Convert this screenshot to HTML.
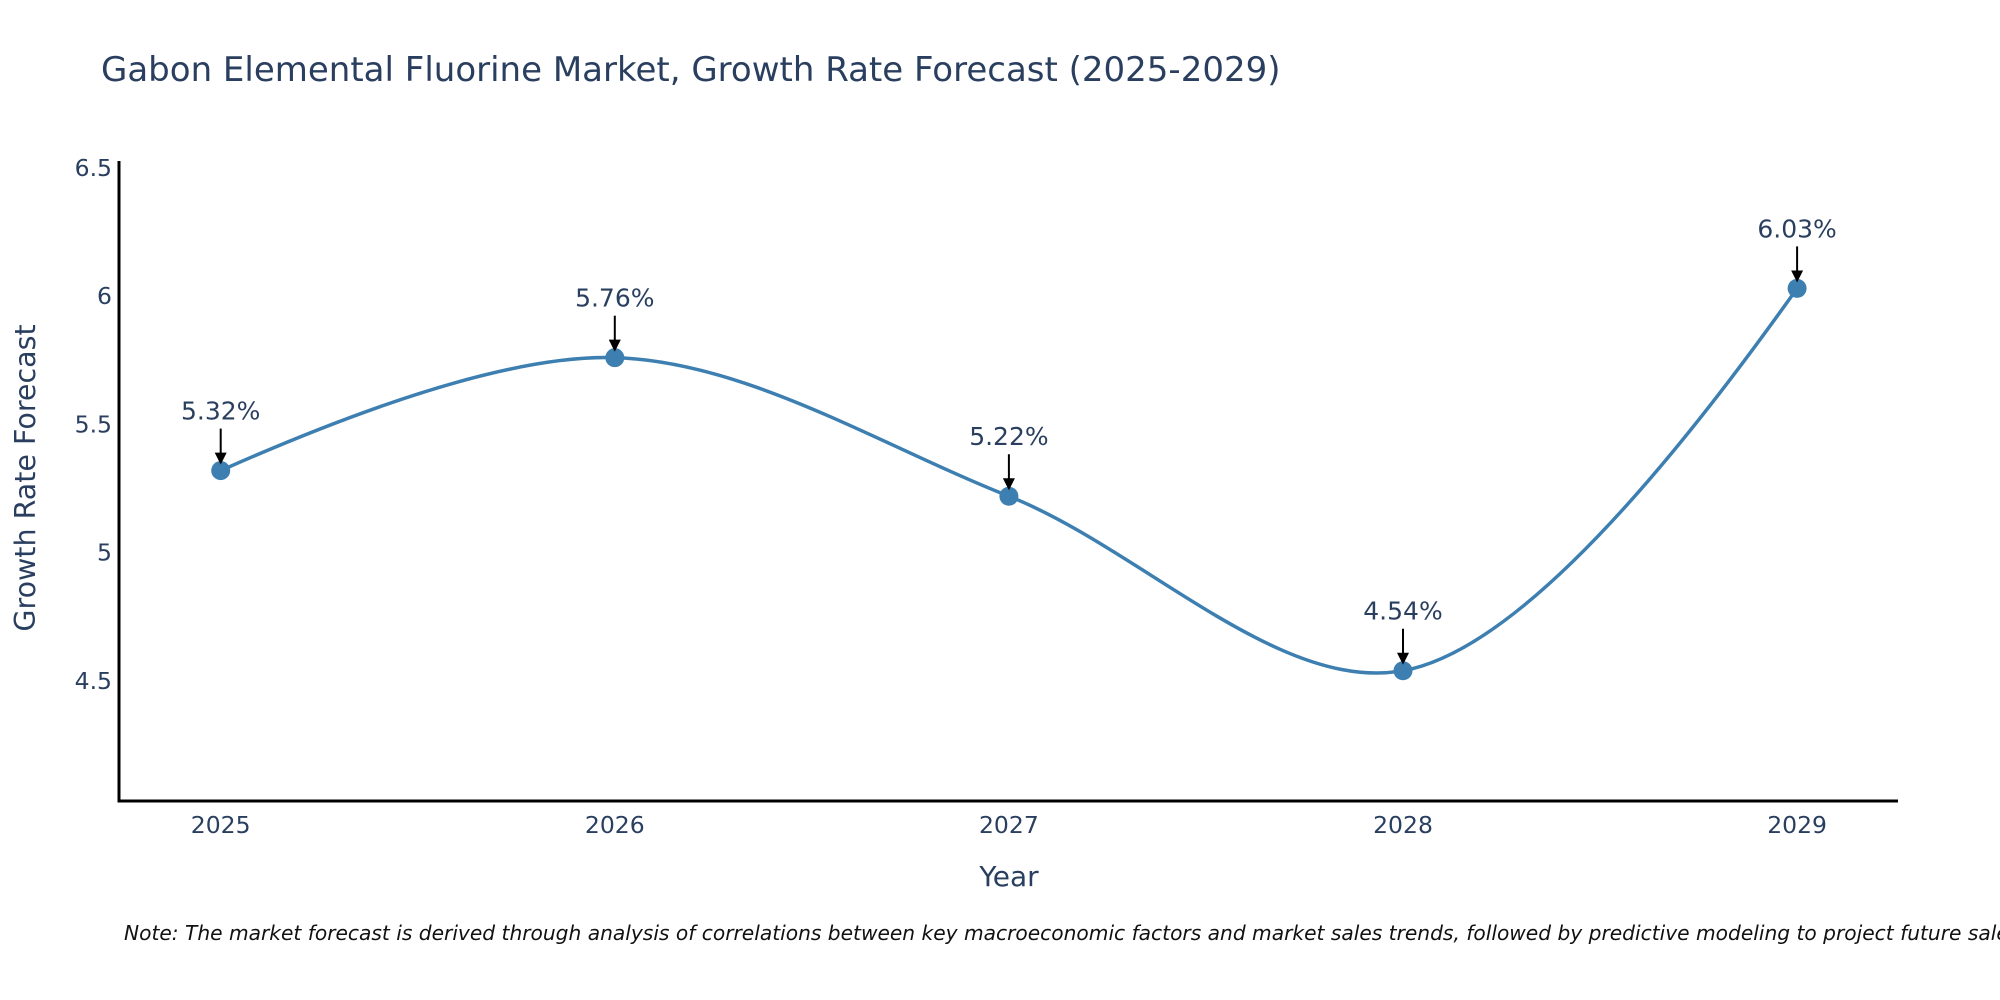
<!DOCTYPE html>
<html><head><meta charset="utf-8"><style>
html,body{margin:0;padding:0;background:#fff;}
svg{display:block;font-family:"DejaVu Sans","Liberation Sans",sans-serif;}
</style></head><body>
<svg id="chart" width="2000" height="1000" viewBox="0 0 2000 1000">
<defs><marker id="ah" markerWidth="6" markerHeight="6" refX="5" refY="3" orient="auto" markerUnits="strokeWidth"><path d="M0,0 L6,3 L0,6 Z" fill="#000"/></marker></defs>
<text x="101" y="81" font-size="34" fill="#2a3f5f">Gabon Elemental Fluorine Market, Growth Rate Forecast (2025-2029)</text>
<g id="yticks"></g>
<g id="xticks"></g>
<line x1="119" y1="161" x2="119" y2="802" stroke="#000" stroke-width="3"/>
<line x1="117.5" y1="801" x2="1898" y2="801" stroke="#000" stroke-width="3"/>
<path id="line" fill="none" stroke="#3d7fb1" stroke-width="3.5"/>
<g id="marks"></g>
<g id="annots"></g>
<text x="1009" y="886" font-size="28" fill="#2a3f5f" text-anchor="middle">Year</text>
<text transform="translate(35,478) rotate(-90)" font-size="28.5" fill="#2a3f5f" text-anchor="middle">Growth Rate Forecast</text>
<text x="124" y="940" font-size="20.2" font-style="italic" fill="#111">Note: The market forecast is derived through analysis of correlations between key macroeconomic factors and market sales trends, followed by predictive modeling to project future sales.</text>
</svg>
<script>
const years = [2025, 2026, 2027, 2028, 2029];
const values = [5.32, 5.76, 5.22, 4.54, 6.03];
const labels = ["5.32%", "5.76%", "5.22%", "4.54%", "6.03%"];
const yTicks = [4.5, 5, 5.5, 6, 6.5];
const yTickLabels = ["4.5", "5", "5.5", "6", "6.5"];

const NS = "http://www.w3.org/2000/svg";
const x = v => 220.7 + (v - 2025) * 394.1;
const y = v => 681 - (v - 4.5) * 256.6;
function mk(tag, attrs, parent) {
  const e = document.createElementNS(NS, tag);
  for (const k in attrs) e.setAttribute(k, attrs[k]);
  parent.appendChild(e);
  return e;
}
const yt = document.getElementById('yticks');
yTicks.forEach((t, i) => {
  const el = mk('text', {x: 112, y: y(t) + 8, 'font-size': 23.5, fill: '#2a3f5f', 'text-anchor': 'end'}, yt);
  el.textContent = yTickLabels[i];
  
  
});
const xt = document.getElementById('xticks');
years.forEach(yr => {
  const el = mk('text', {x: x(yr), y: 833, 'font-size': 23.5, fill: '#2a3f5f', 'text-anchor': 'middle'}, xt);
  el.textContent = String(yr);
  
  
});
const pts = years.map((yr, i) => [x(yr), y(values[i])]);
function tangent(p, c, n, s) {
  const d1x = p[0]-c[0], d1y = p[1]-c[1], d2x = n[0]-c[0], d2y = n[1]-c[1];
  const d1a = Math.pow(d1x*d1x + d1y*d1y, 0.25), d2a = Math.pow(d2x*d2x + d2y*d2y, 0.25);
  const nx = (d2a*d2a*d1x - d1a*d1a*d2x)*s, ny = (d2a*d2a*d1y - d1a*d1a*d2y)*s;
  const den1 = 3*d2a*(d1a+d2a), den2 = 3*d1a*(d1a+d2a);
  return [[c[0]+nx/den1, c[1]+ny/den1], [c[0]-nx/den2, c[1]-ny/den2]];
}
const tg = [];
for (let i = 1; i < pts.length - 1; i++) tg.push(tangent(pts[i-1], pts[i], pts[i+1], 1));
let d = 'M' + pts[0] + 'Q' + tg[0][0] + ' ' + pts[1];
for (let i = 2; i < pts.length - 1; i++) d += 'C' + tg[i-2][1] + ' ' + tg[i-1][0] + ' ' + pts[i];
d += 'Q' + tg[tg.length-1][1] + ' ' + pts[pts.length-1];
document.getElementById('line').setAttribute('d', d);
const mg = document.getElementById('marks');
const ag = document.getElementById('annots');
pts.forEach((p, i) => {
  const c = mk('circle', {cx: p[0], cy: p[1], r: 9.5, fill: '#3d7fb1'}, mg);
  
  
  const l = mk('line', {x1: p[0], y1: p[1] - 42, x2: p[0], y2: p[1] - 8, stroke: '#000', 'stroke-width': 2, 'marker-end': 'url(#ah)'}, ag);
  
  
  const t = mk('text', {x: p[0], y: p[1] - 51, 'font-size': 25, fill: '#2a3f5f', 'text-anchor': 'middle'}, ag);
  t.textContent = labels[i];
  
  
});
</script>
</body></html>
